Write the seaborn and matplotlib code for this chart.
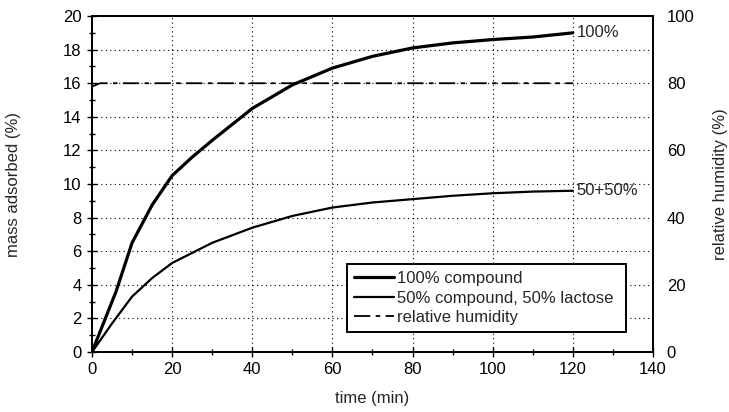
import matplotlib
matplotlib.use("Agg")
import matplotlib.pyplot as plt
from matplotlib.ticker import MultipleLocator
import seaborn as sns
import pandas as pd

# Adsorption measurements
time_full = [0, 6, 10, 15, 20, 25, 30, 40, 50, 60, 70, 80, 90, 100, 110, 120]
mass_full = [0, 3.6, 6.5, 8.75, 10.5, 11.6, 12.6, 14.5, 15.9, 16.9, 17.6, 18.1, 18.4, 18.6, 18.75, 19.0]

time_mix = [0, 5, 10, 15, 20, 30, 40, 50, 60, 70, 80, 90, 100, 110, 120]
mass_mix = [0, 1.7, 3.3, 4.4, 5.3, 6.5, 7.4, 8.1, 8.6, 8.9, 9.1, 9.3, 9.45, 9.55, 9.6]

time_rh = [0, 2, 10, 20, 40, 60, 80, 100, 120]
rh = [79, 80, 80, 80, 80, 80, 80, 80, 80]

labels = ["100% compound", "50% compound, 50% lactose", "relative humidity"]

FS = 12

sns.set_style("white")
plt.rcParams["font.family"] = ["Liberation Sans", "DejaVu Sans"]
plt.rcParams["font.size"] = FS

fig = plt.figure(figsize=(7.29, 4.12), dpi=100)
ax = fig.add_axes([0.1262, 0.1456, 0.7695, 0.8155])
ax2 = ax.twinx()

df_full = pd.DataFrame({"t": time_full, "m": mass_full})
df_mix = pd.DataFrame({"t": time_mix, "m": mass_mix})
df_rh = pd.DataFrame({"t": time_rh, "rh": rh})

sns.lineplot(data=df_full, x="t", y="m", ax=ax, color="black", linewidth=2.3,
             label=labels[0], legend=False)
sns.lineplot(data=df_mix, x="t", y="m", ax=ax, color="black", linewidth=1.6,
             label=labels[1], legend=False)
sns.lineplot(data=df_rh, x="t", y="rh", ax=ax2, color="black", linewidth=1.3,
             label=labels[2], legend=False)
ax2.lines[0].set_dashes((9, 3, 2.5, 3))

ax.set_xlim(0, 140)
ax.set_ylim(0, 20)
ax2.set_ylim(0, 100)

ax.xaxis.set_major_locator(MultipleLocator(20))
ax.xaxis.set_minor_locator(MultipleLocator(10))
ax.yaxis.set_major_locator(MultipleLocator(2))
ax.yaxis.set_minor_locator(MultipleLocator(1))
ax2.yaxis.set_major_locator(MultipleLocator(20))

ax.tick_params(axis="both", which="major", direction="inout", length=7, width=1.0,
               color="black", labelsize=FS, labelcolor="black", pad=4)
ax.tick_params(axis="both", which="minor", direction="inout", length=5, width=1.0,
               color="black")
ax.tick_params(axis="x", which="both", bottom=True)
ax.tick_params(axis="y", which="both", left=True)
ax2.tick_params(axis="y", which="major", length=0, labelsize=FS, labelcolor="black", pad=10)

ax.grid(True, which="major", color="black", linestyle=(0, (1, 3)), linewidth=0.8)
ax.set_axisbelow(True)

for a in (ax, ax2):
    for sp in a.spines.values():
        sp.set_color("black")
        sp.set_linewidth(1.4)

ax.set_xlabel("time (min)", fontsize=FS, labelpad=10)
ax.set_ylabel("mass adsorbed (%)", fontsize=FS, labelpad=30)
ax2.set_ylabel("relative humidity (%)", fontsize=FS, labelpad=13, rotation=90)

ax.text(121, mass_full[-1], "100%", ha="left", va="center", fontsize=FS)
ax.text(121, mass_mix[-1], "50+50%", ha="left", va="center", fontsize=FS)

handles = ax.get_lines()[:2] + ax2.get_lines()[:1]
leg = ax.legend(handles, labels, loc="lower left", bbox_to_anchor=(0.4545, 0.06, 0.4975, 0.196),
                mode="expand", frameon=True, fancybox=False, framealpha=1,
                edgecolor="black", borderpad=0.4, handlelength=2.4, handletextpad=0.2,
                labelspacing=0.28, borderaxespad=0, fontsize=FS)
leg.get_frame().set_linewidth(1.4)
leg.set_zorder(5)

fig.savefig("out.png", dpi=100)
